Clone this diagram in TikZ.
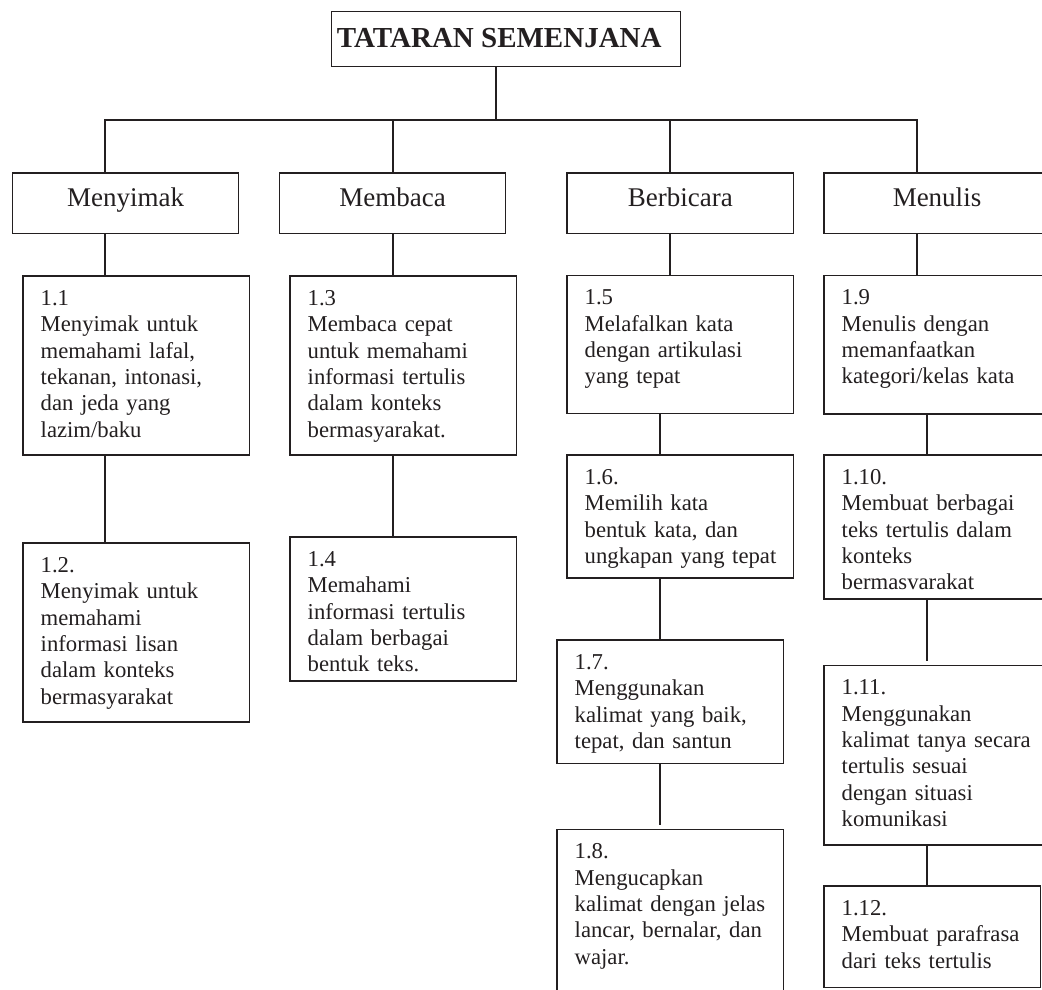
\documentclass[tikz,border=0pt]{standalone}
\usepackage{fontspec}
\setmainfont{Liberation Serif}
\usetikzlibrary{calc}
\definecolor{ink}{HTML}{231F20}
\newcommand\bx[6]{%
  \node[box, minimum width={#4-#2}, minimum height={#5-#3}] (#1) at (#2,#3) {};
  \node[txt] (#1t) at ($(#1.north west)+(17.5,10.6)$) {\strut #6};}
\newcommand\hd[6]{%
  \node[box, minimum width={#4-#2}, minimum height={#5-#3}] (#1) at (#2,#3) {};
  \node[head] (#1t) at ({(#2+#4)/2},206.5) {#6};}
\begin{document}
\begin{tikzpicture}[x=1pt,y=-1pt,
  box/.style={draw=ink, line width=1.7pt, rectangle, inner sep=0pt, outer sep=0pt, anchor=north west},
  txt/.style={inner sep=0pt, anchor=north west, align=left, text width=220pt, text=ink, font=\fontsize{22.7}{26.4}\selectfont},
  head/.style={inner sep=0pt, anchor=base, text=ink, font=\fontsize{27}{32}\selectfont},
  link/.style={draw=ink, line width=1.7pt}]
\useasboundingbox (0,0) rectangle (1042,990);
\clip (0,0) rectangle (1042,990);

% title
\node[box, minimum width=349pt, minimum height=55pt] (title) at (331.5,11.5) {};
\node[inner sep=0pt, anchor=base, text=ink, font=\fontsize{29}{35}\selectfont\bfseries] (titlet) at (499.3,47.7) {TATARAN SEMENJANA};

% level 1
\hd{menyimak}{12.5}{173}{238.5}{233.5}{Menyimak}
\hd{membaca}{279.5}{173}{505.5}{233.5}{Membaca}
\hd{berbicara}{567}{173}{793.5}{233.5}{Berbicara}
\hd{menulis}{824}{173}{1050}{233.5}{Menulis}

% level 2
\bx{b11}{23}{276}{249.5}{455}{1.1\\Menyimak untuk\\memahami lafal,\\tekanan, intonasi,\\dan jeda yang\\lazim/baku}
\bx{b12}{23}{543}{249.5}{722}{1.2.\\Menyimak untuk\\memahami\\informasi lisan\\dalam konteks\\bermasyarakat}
\bx{b13}{290}{276}{516.5}{455}{1.3\\Membaca cepat\\untuk memahami\\informasi tertulis\\dalam konteks\\bermasyarakat.}
\bx{b14}{290}{537}{516.5}{681}{1.4\\Memahami\\informasi tertulis\\dalam berbagai\\bentuk teks.}
\bx{b15}{567}{275.5}{793.5}{413.5}{1.5\\Melafalkan kata\\dengan artikulasi\\yang tepat}
\bx{b16}{567}{455}{793.5}{578}{1.6.\\Memilih kata\\bentuk kata, dan\\ungkapan yang tepat}
\bx{b17}{557}{640}{783.5}{763.5}{1.7.\\Menggunakan\\kalimat yang baik,\\tepat, dan santun}
\bx{b18}{557}{829.5}{783.5}{1000}{1.8.\\Mengucapkan\\kalimat dengan jelas\\lancar, bernalar, dan\\wajar.}
\bx{b19}{824}{275.5}{1051}{414}{1.9\\Menulis dengan\\memanfaatkan\\kategori/kelas kata}
\bx{b110}{824}{455}{1051}{599}{1.10.\\Membuat berbagai\\teks tertulis dalam\\konteks\\bermasvarakat}
\bx{b111}{824}{665.5}{1051}{845}{1.11.\\Menggunakan\\kalimat tanya secara\\tertulis sesuai\\dengan situasi\\komunikasi}
\bx{b112}{824}{886}{1040.5}{987.5}{1.12.\\Membuat parafrasa\\dari teks tertulis}

% connectors
\coordinate (jt) at (496,120);
\coordinate (j1) at (105,120);
\coordinate (j2) at (392.7,120);
\coordinate (j3) at (670,120);
\coordinate (j4) at (916.7,120);
\coordinate (k3) at (660,0);
\coordinate (k4) at (927,0);

\draw[link] (title.south -| jt) -- (jt);
\draw[link] (j1 |- menyimak.north) -- (j1) -- (j4) -- (j4 |- menulis.north);
\draw[link] (j2) -- (j2 |- membaca.north);
\draw[link] (j3) -- (j3 |- berbicara.north);

\draw[link] (menyimak.south -| j1) -- (b11.north -| j1);
\draw[link] (b11.south -| j1) -- (b12.north -| j1);
\draw[link] (membaca.south -| j2) -- (b13.north -| j2);
\draw[link] (b13.south -| j2) -- (b14.north -| j2);
\draw[link] (berbicara.south -| j3) -- (b15.north -| j3);
\draw[link] (b15.south -| k3) -- (b16.north -| k3);
\draw[link] (b16.south -| k3) -- (b17.north -| k3);
\draw[link, shorten >=4.5pt] (b17.south -| k3) -- (b18.north -| k3);
\draw[link] (menulis.south -| j4) -- (b19.north -| j4);
\draw[link] (b19.south -| k4) -- (b110.north -| k4);
\draw[link, shorten >=5pt] (b110.south -| k4) -- (b111.north -| k4);
\draw[link] (b111.south -| k4) -- (b112.north -| k4);
\end{tikzpicture}
\end{document}
